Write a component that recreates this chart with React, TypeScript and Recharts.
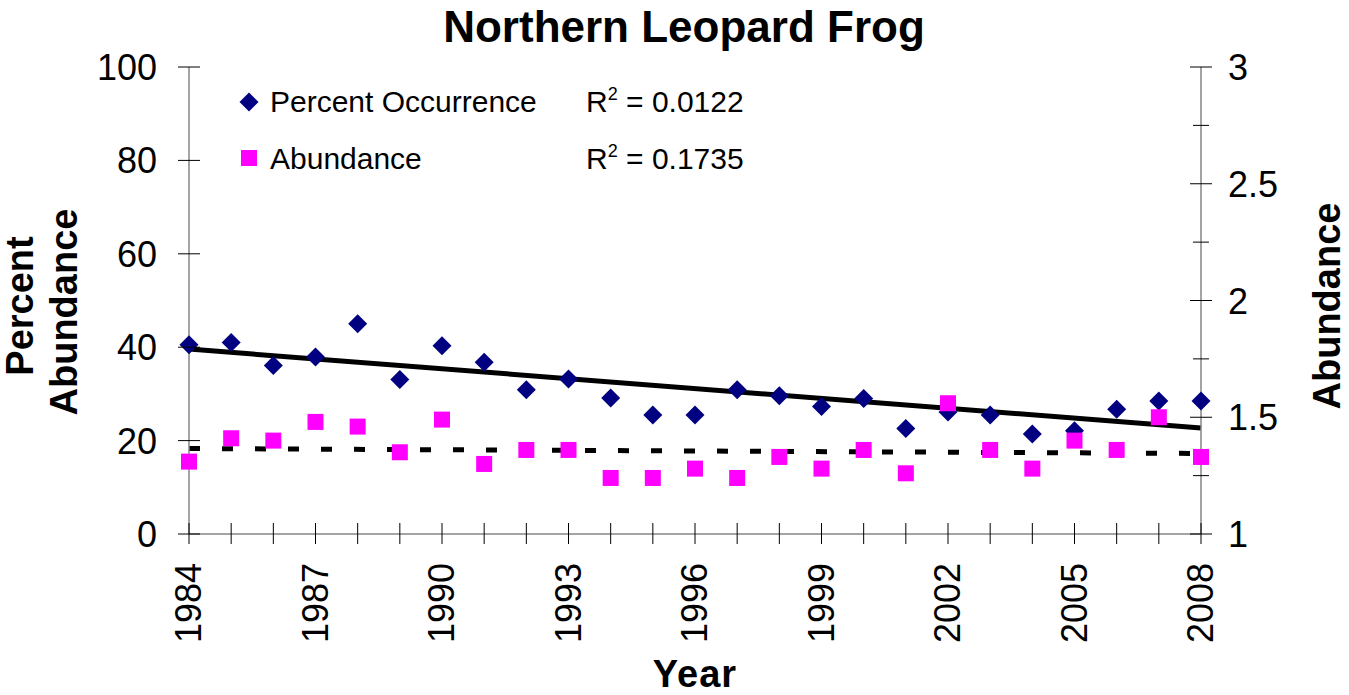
import React from 'react';
import { ComposedChart, Scatter, Line, XAxis, YAxis } from 'recharts';

const years = [1984, 1985, 1986, 1987, 1988, 1989, 1990, 1991, 1992, 1993, 1994, 1995, 1996, 1997, 1998, 1999, 2000, 2001, 2002, 2003, 2004, 2005, 2006, 2007, 2008];
const percentOccurrence = [40.5, 41.0, 36.1, 37.9, 45.0, 33.1, 40.3, 36.8, 30.9, 33.2, 29.1, 25.5, 25.5, 30.9, 29.6, 27.3, 29.0, 22.6, 26.1, 25.5, 21.4, 22.1, 26.7, 28.5, 28.5];
const abundance = [1.31, 1.41, 1.40, 1.48, 1.46, 1.35, 1.49, 1.30, 1.36, 1.36, 1.24, 1.24, 1.28, 1.24, 1.33, 1.28, 1.36, 1.26, 1.56, 1.36, 1.28, 1.40, 1.36, 1.50, 1.33];
const trendYears = [1984, 2008];
const occurrenceTrend = [39.6, 22.7];
const abundanceTrend = [1.366, 1.345];
const xLabelYears = [1984, 1987, 1990, 1993, 1996, 1999, 2002, 2005, 2008];
const leftTicks = [0, 20, 40, 60, 80, 100];
const rightTicks = [1, 1.25, 1.5, 1.75, 2, 2.25, 2.5, 2.75, 3];
const rightTickLabels = [1, 1.5, 2, 2.5, 3];

const occData = years.map((y, i) => ({ year: y, value: percentOccurrence[i] }));
const abData = years.map((y, i) => ({ year: y, value: abundance[i] }));
const occTrendData = trendYears.map((y, i) => ({ year: y, value: occurrenceTrend[i] }));
const abTrendData = trendYears.map((y, i) => ({ year: y, value: abundanceTrend[i] }));

const FONT = '"Liberation Sans", Arial, sans-serif';
const NAVY = '#000080';
const MAGENTA = '#FF00FF';
const AXIS = '#868686';

const Diamond = (props: any) => {
  const { cx, cy } = props;
  if (cx == null || cy == null) return null;
  const r = 9.5;
  return <polygon points={`${cx},${cy - r} ${cx + r},${cy} ${cx},${cy + r} ${cx - r},${cy}`} fill={NAVY} />;
};

const Square = (props: any) => {
  const { cx, cy } = props;
  if (cx == null || cy == null) return null;
  const s = 8;
  return <rect x={cx - s} y={cy - s} width={2 * s} height={2 * s} fill={MAGENTA} />;
};

const XTick = (props: any) => {
  const { x, y, payload } = props;
  const yr = payload.value;
  const show = xLabelYears.includes(yr);
  const lx = x + 12;
  const ly = y + 29;
  return (
    <g>
      <line x1={x} x2={x} y1={y - 11} y2={y + 10} stroke="#000" strokeWidth={1} />
      {show && (
        <text x={lx} y={ly} transform={`rotate(-90 ${lx} ${ly})`} textAnchor="end" fontSize={36} fontFamily={FONT} fill="#000">
          {yr}
        </text>
      )}
    </g>
  );
};

const LeftTick = (props: any) => {
  const { x, y, payload } = props;
  return (
    <g>
      <line x1={x - 11} x2={x + 11} y1={y} y2={y} stroke="#000" strokeWidth={1} />
      <text x={x - 32} y={y + 13} textAnchor="end" fontSize={36} fontFamily={FONT} fill="#000">
        {payload.value}
      </text>
    </g>
  );
};

const RightTick = (props: any) => {
  const { x, y, payload } = props;
  const v = payload.value;
  const major = rightTickLabels.includes(v);
  const h = major ? 11 : 8;
  return (
    <g>
      <line x1={x - h} x2={x + h} y1={y} y2={y} stroke="#000" strokeWidth={1} />
      {major && (
        <text x={x + 27} y={y + 13} textAnchor="start" fontSize={36} fontFamily={FONT} fill="#000">
          {v}
        </text>
      )}
    </g>
  );
};

export default function App() {
  return (
    <div style={{ position: 'absolute', left: 0, top: 0, width: 1349, height: 695, background: '#fff', overflow: 'hidden' }}>
      <ComposedChart width={1349} height={695} margin={{ top: 67, right: 0, bottom: 0, left: 0 }}>
        <XAxis
          dataKey="year"
          type="number"
          domain={[1984, 2008]}
          ticks={years}
          interval={0}
          height={161}
          tickSize={0}
          tickMargin={0}
          tickLine={false}
          axisLine={{ stroke: AXIS, strokeWidth: 1.5 }}
          tick={<XTick />}
        />
        <YAxis
          yAxisId="left"
          orientation="left"
          type="number"
          domain={[0, 100]}
          ticks={leftTicks}
          interval={0}
          width={189}
          tickSize={0}
          tickMargin={0}
          tickLine={false}
          axisLine={{ stroke: AXIS, strokeWidth: 1.5 }}
          tick={<LeftTick />}
        />
        <YAxis
          yAxisId="right"
          orientation="right"
          type="number"
          domain={[1, 3]}
          ticks={rightTicks}
          interval={0}
          width={148}
          tickSize={0}
          tickMargin={0}
          tickLine={false}
          axisLine={{ stroke: AXIS, strokeWidth: 1.5 }}
          tick={<RightTick />}
        />
        <Line
          yAxisId="left"
          data={occTrendData}
          dataKey="value"
          type="linear"
          stroke="#000"
          strokeWidth={5}
          dot={false}
          activeDot={false}
          isAnimationActive={false}
        />
        <Line
          yAxisId="right"
          data={abTrendData}
          dataKey="value"
          type="linear"
          stroke="#000"
          strokeWidth={5}
          strokeDasharray="11 22"
          dot={false}
          activeDot={false}
          isAnimationActive={false}
        />
        <Scatter yAxisId="left" name="Percent Occurrence" data={occData} dataKey="value" shape={<Diamond />} isAnimationActive={false} />
        <Scatter yAxisId="right" name="Abundance" data={abData} dataKey="value" shape={<Square />} isAnimationActive={false} />
      </ComposedChart>
      <svg width={1349} height={695} style={{ position: 'absolute', left: 0, top: 0, pointerEvents: 'none' }}>
        <text x={684} y={42} textAnchor="middle" fontSize={44} fontWeight="bold" fontFamily={FONT} fill="#000">
          Northern Leopard Frog
        </text>
        <text x={33} y={306} transform="rotate(-90 33 306)" textAnchor="middle" fontSize={38} fontWeight="bold" fontFamily={FONT} fill="#000">
          Percent
        </text>
        <text x={77} y={312} transform="rotate(-90 77 312)" textAnchor="middle" fontSize={38} fontWeight="bold" fontFamily={FONT} fill="#000">
          Abundance
        </text>
        <text x={1340} y={306} transform="rotate(-90 1340 306)" textAnchor="middle" fontSize={38} fontWeight="bold" fontFamily={FONT} fill="#000">
          Abundance
        </text>
        <text x={695} y={687} textAnchor="middle" fontSize={38} fontWeight="bold" fontFamily={FONT} fill="#000" letterSpacing={1}>
          Year
        </text>
        <Diamond cx={249} cy={102} />
        <text x={270} y={112} fontSize={30} fontFamily={FONT} fill="#000">Percent Occurrence</text>
        <text x={586} y={112} fontSize={30} fontFamily={FONT} fill="#000">
          <tspan>R</tspan>
          <tspan dy={-12} fontSize={18}>2</tspan>
          <tspan dy={12}> = 0.0122</tspan>
        </text>
        <Square cx={249} cy={158} />
        <text x={270} y={169} fontSize={30} fontFamily={FONT} fill="#000">Abundance</text>
        <text x={586} y={169} fontSize={30} fontFamily={FONT} fill="#000">
          <tspan>R</tspan>
          <tspan dy={-12} fontSize={18}>2</tspan>
          <tspan dy={12}> = 0.1735</tspan>
        </text>
      </svg>
    </div>
  );
}
